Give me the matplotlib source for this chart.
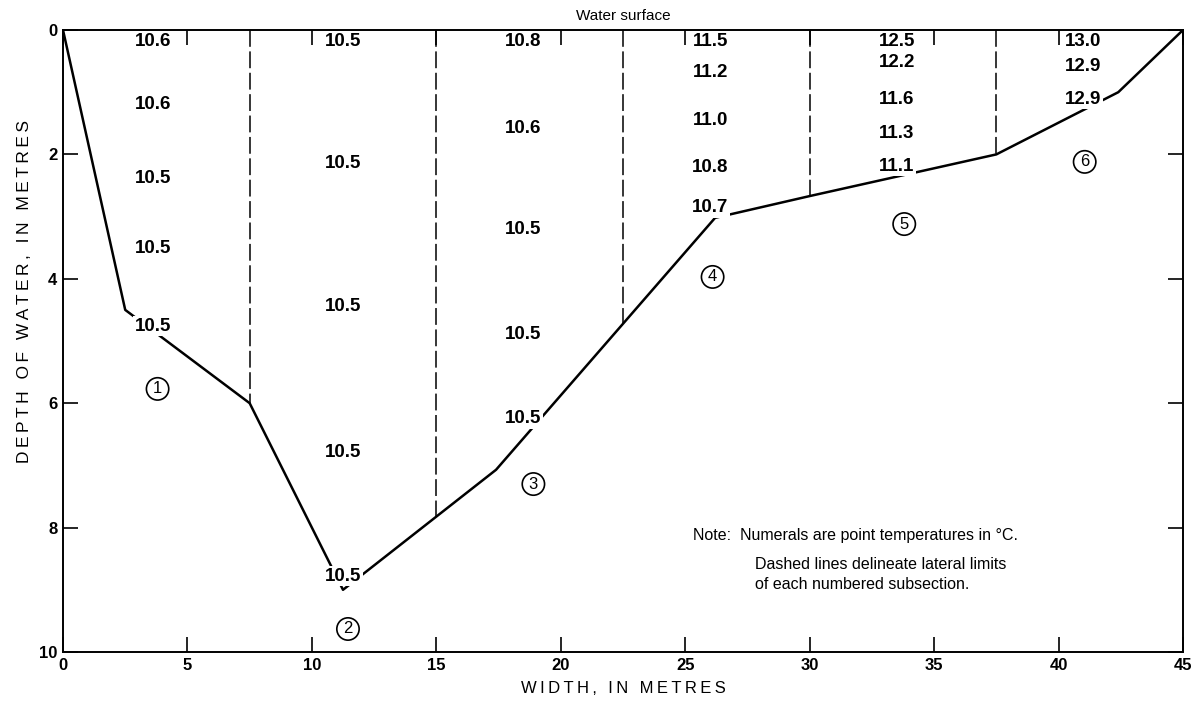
import numpy as np
import matplotlib
matplotlib.use("Agg")
import matplotlib.pyplot as plt

plt.rcParams['font.family'] = ['Liberation Sans', 'DejaVu Sans']

# ------------------------------------------------------------------
# data read off the cross-section
# ------------------------------------------------------------------
# stream bed profile (width, depth)
prof_x = [0.0, 2.5, 7.5, 11.25, 17.4, 26.2, 30.0, 37.5, 42.4, 45.0]
prof_d = [0.0, 4.5, 6.0, 9.0, 7.07, 3.02, 2.67, 2.0, 1.0, 0.0]

# lateral limits of subsections
dividers = [7.5, 15.0, 22.5, 30.0, 37.5]

# point temperatures, deg C, per subsection
sub_x = [3.6, 11.25, 18.5, 26.0, 33.5, 41.0]
sub1_t = ["10.6", "10.6", "10.5", "10.5", "10.5"]
sub1_d = [0.18, 1.19, 2.38, 3.52, 4.76]
sub2_t = ["10.5", "10.5", "10.5", "10.5", "10.5"]
sub2_d = [0.18, 2.15, 4.44, 6.8, 8.78]
sub3_t = ["10.8", "10.6", "10.5", "10.5", "10.5"]
sub3_d = [0.18, 1.59, 3.2, 4.89, 6.25]
sub4_t = ["11.5", "11.2", "11.0", "10.8", "10.7"]
sub4_d = [0.18, 0.69, 1.46, 2.21, 2.86]
sub5_t = ["12.5", "12.2", "11.6", "11.3", "11.1"]
sub5_d = [0.18, 0.53, 1.11, 1.66, 2.19]
sub6_t = ["13.0", "12.9", "12.9"]
sub6_d = [0.18, 0.58, 1.11]

# subsection numbers
circ_n = ["1", "2", "3", "4", "5", "6"]
circ_x = [3.8, 11.45, 18.9, 26.1, 33.8, 41.05]
circ_d = [5.77, 9.63, 7.3, 3.97, 3.12, 2.12]

note_lines = ["Note:  Numerals are point temperatures in °C.",
              "Dashed lines delineate lateral limits",
              "of each numbered subsection."]


def spaced(s):
    # the original lettering is widely tracked
    return "\u2009".join(s)


# ------------------------------------------------------------------
fig = plt.figure(figsize=(12.01, 7.06), dpi=100)
ax = fig.add_axes([63/1201, 1 - 652/706, 1120/1201, 622/706])
ax.set_axisbelow(False)

ax.plot(prof_x, prof_d, color='black', lw=1.8, zorder=2)

div_end = np.interp(dividers, prof_x, prof_d)
for xd, de in zip(dividers, div_end):
    ax.plot([xd, xd], [0, de], color='black', lw=1.1,
            linestyle=(0, (11, 3)), zorder=2)

temps = [sub1_t, sub2_t, sub3_t, sub4_t, sub5_t, sub6_t]
depths = [sub1_d, sub2_d, sub3_d, sub4_d, sub5_d, sub6_d]
for xs, tl, dl in zip(sub_x, temps, depths):
    for t, d in zip(tl, dl):
        ax.text(xs, d, t, ha='center', va='center', fontsize=13.5,
                fontweight='bold', zorder=2.2,
                bbox=dict(fc='white', ec='none', pad=1.0))

for n, xc, dc in zip(circ_n, circ_x, circ_d):
    ax.text(xc, dc, n, ha='center', va='center', fontsize=12,
            zorder=2.2,
            bbox=dict(boxstyle='circle,pad=0.22', fc='white', ec='black', lw=1.2))

ax.text(25.3, 8.13, note_lines[0], ha='left', va='center', fontsize=11.5)
ax.text(27.8, 8.59, note_lines[1], ha='left', va='center', fontsize=11.5)
ax.text(27.8, 8.92, note_lines[2], ha='left', va='center', fontsize=11.5)

ax.text(0.5, 1.012, "Water surface", transform=ax.transAxes,
        ha='center', va='bottom', fontsize=11)

ax.set_xlim(0, 45)
ax.set_ylim(10, 0)
ax.set_xticks(np.arange(0, 46, 5))
ax.set_yticks(np.arange(0, 11, 2))
ax.tick_params(direction='in', length=11, width=1.2, top=True, right=True,
               labelsize=12, pad=4)
for lab in ax.get_xticklabels() + ax.get_yticklabels():
    lab.set_fontweight('bold')
for sp in ax.spines.values():
    sp.set_linewidth(1.4)

ax.set_xlabel(spaced("WIDTH, IN METRES"), fontsize=12, labelpad=6)
ax.set_ylabel(spaced("DEPTH OF WATER, IN METRES"), fontsize=12.5)
ax.yaxis.set_label_coords(-0.028, 0.58)

fig.savefig("out.png", dpi=100)
